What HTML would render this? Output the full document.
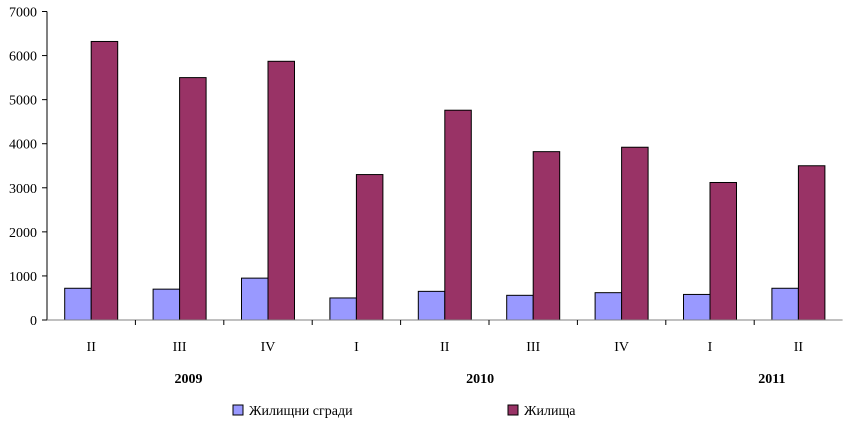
<!DOCTYPE html>
<html><head><meta charset="utf-8"><style>
body{margin:0;background:#fff;}
svg text{font-family:"Liberation Serif",serif;font-size:14px;fill:#000;}
</style></head><body>
<svg width="852" height="421">
<g id="plot"></g>
</svg>
<script>
const categories=["II","III","IV","I","II","III","IV","I","II"];
const buildings=[720,700,950,500,650,560,620,580,720];
const dwellings=[6320,5500,5870,3300,4760,3820,3920,3120,3500];
const yTicks=[0,1000,2000,3000,4000,5000,6000,7000];
const years=[{label:"2009",pos:1},{label:"2010",pos:4.3},{label:"2011",pos:7.6}];
const NS="http://www.w3.org/2000/svg";
const g=document.getElementById('plot');
const x0=47,cw=88.4,y0=320,yTop=11.5,yMax=7000;
const y=v=>y0-(v/yMax)*(y0-yTop);
const xc=i=>x0+cw*(i+0.5);
function el(t,a){const e=document.createElementNS(NS,t);for(const k in a)e.setAttribute(k,a[k]);g.appendChild(e);return e;}
let ax=el('line',{x1:x0,y1:yTop,x2:x0,y2:y0,stroke:'#000'});


yTicks.forEach(v=>{
 const t=el('line',{x1:x0-5,x2:x0,y1:y(v),y2:y(v),stroke:'#000'});
 
 
 const l=el('text',{x:x0-10,y:y(v)+5,'text-anchor':'end'});l.textContent=v;
 
 
});
const bw=26.5;
categories.forEach((c,i)=>{
 const b=el('rect',{x:xc(i)-bw,y:y(buildings[i]),width:bw,height:y0-y(buildings[i]),fill:'#9999ff',stroke:'#000'});
 
 
 const d=el('rect',{x:xc(i),y:y(dwellings[i]),width:bw,height:y0-y(dwellings[i]),fill:'#993366',stroke:'#000'});
 
 
 const l=el('text',{x:xc(i),y:351,'text-anchor':'middle'});l.textContent=c;
 
 
});
let xa=el('line',{x1:x0,y1:y0,x2:x0+cw*9,y2:y0,stroke:'#808080'});


for(let i=1;i<9;i++){
 const t=el('line',{x1:x0+cw*i,x2:x0+cw*i,y1:y0,y2:y0+5,stroke:'#000'});
 
 
}
years.forEach(yr=>{
 const l=el('text',{x:x0+cw*(yr.pos+0.6),y:383,'text-anchor':'middle','font-weight':'bold'});l.textContent=yr.label;
 
 
});
const leg=[["Жилищни сгради","#9999ff",233],["Жилища","#993366",508]];
leg.forEach(e=>{
 const r=el('rect',{x:e[2],y:405,width:10,height:10,fill:e[1],stroke:'#000'});
 
 
 const t=el('text',{x:e[2]+16,y:415});t.textContent=e[0];
 
 
});
</script>
</body></html>
